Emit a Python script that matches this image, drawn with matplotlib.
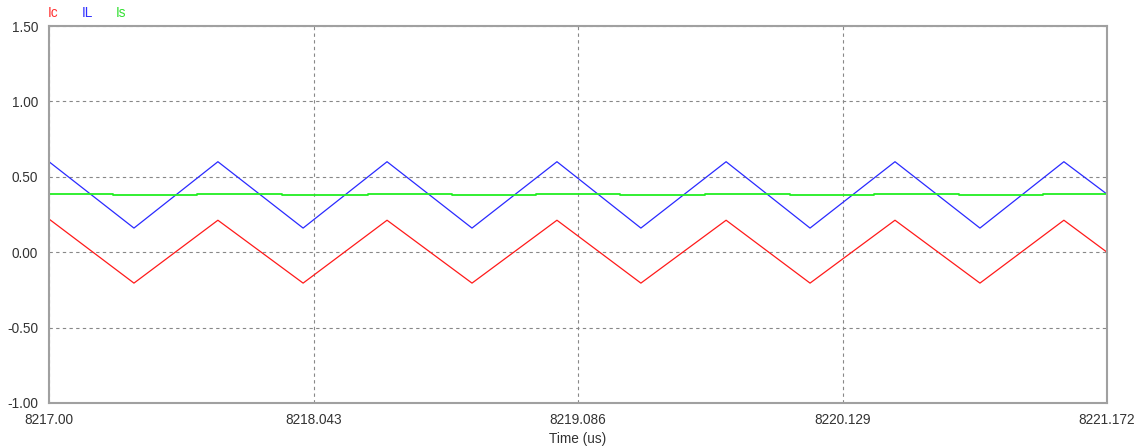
import matplotlib
matplotlib.use("Agg")
import matplotlib.pyplot as plt

plt.rcParams['font.family'] = ['Liberation Sans', 'DejaVu Sans']

# corner times of the triangle waves (us)
t_tri = [8217.000, 8217.335, 8217.666, 8218.002, 8218.333, 8218.668, 8219.003,
         8219.334, 8219.670, 8220.001, 8220.336, 8220.671, 8221.002, 8221.172]
IL = [0.60, 0.16, 0.60, 0.16, 0.60, 0.16, 0.60, 0.16, 0.60, 0.16, 0.60, 0.16, 0.60, 0.385]
Ic = [0.22, -0.205, 0.212, -0.205, 0.212, -0.205, 0.212, -0.205, 0.212, -0.205, 0.212, -0.205, 0.212, 0.0]

# Is is almost flat, small steps
t_is = [8217.000, 8217.252, 8217.584, 8217.919, 8218.258, 8218.589, 8218.920,
        8219.252, 8219.587, 8219.922, 8220.253, 8220.588, 8220.920, 8221.172]
Is = [0.385, 0.378, 0.385, 0.378, 0.385, 0.378, 0.385,
      0.378, 0.385, 0.378, 0.385, 0.378, 0.385, 0.385]

xticks = [8217.00, 8218.043, 8219.086, 8220.129, 8221.172]
xtick_labels = ["8217.00", "8218.043", "8219.086", "8220.129", "8221.172"]
yticks = [-1.0, -0.5, 0.0, 0.5, 1.0, 1.5]

fs = 9.8

fig = plt.figure(figsize=(11.43, 4.47), dpi=100)
ax = fig.add_axes([49/1143, 44/447, 1058/1143, 377/447])

ax.plot(t_tri, Ic, color='#ff1a1a', lw=0.9)
ax.plot(t_tri, IL, color='#2a2aff', lw=0.9)
ax.step(t_is, Is, where='post', color='#22ee22', lw=1.3)

ax.set_xlim(8217.0, 8221.172)
ax.set_ylim(-1.0, 1.5)
ax.set_xticks(xticks)
ax.set_xticklabels(xtick_labels)
ax.set_yticks(yticks)
ax.set_yticklabels(["%.2f" % v for v in yticks])
ax.tick_params(axis='both', labelsize=fs, colors='#333333', length=0)
ax.tick_params(axis='x', pad=7)
ax.tick_params(axis='y', pad=8)
ax.grid(True, linestyle=(0, (3, 3)), color='#888888', lw=0.8)

for sp in ax.spines.values():
    sp.set_color('#a0a0a0')
    sp.set_linewidth(1.5)

ax.set_xlabel("Time (us)", fontsize=fs, color='#333333', labelpad=4)

fig.text(48/1143, 1 - 13/447, "Ic", color='#ff3030', fontsize=fs, va='center')
fig.text(82/1143, 1 - 13/447, "IL", color='#3030ff', fontsize=fs, va='center')
fig.text(116/1143, 1 - 13/447, "Is", color='#30e030', fontsize=fs, va='center')

plt.savefig("out.png", dpi=100)
